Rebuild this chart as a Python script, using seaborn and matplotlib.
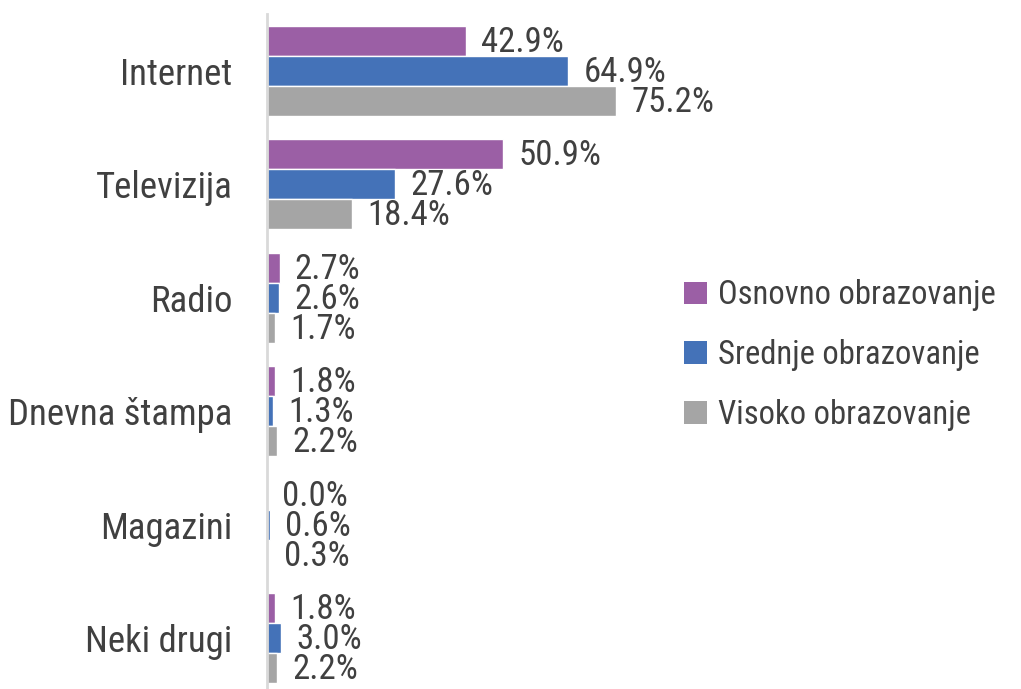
import matplotlib
matplotlib.use("Agg")
import matplotlib.pyplot as plt
import seaborn as sns
import pandas as pd
from matplotlib.patches import Patch

categories = ["Internet", "Televizija", "Radio", "Dnevna štampa", "Magazini", "Neki drugi"]
series_names = ["Osnovno obrazovanje", "Srednje obrazovanje", "Visoko obrazovanje"]
osnovno = [42.9, 50.9, 2.7, 1.8, 0.0, 1.8]
srednje = [64.9, 27.6, 2.6, 1.3, 0.6, 3.0]
visoko = [75.2, 18.4, 1.7, 2.2, 0.3, 2.2]
colors = ["#9B5FA5", "#4472B8", "#A5A5A5"]

rows = []
for name, vals in zip(series_names, [osnovno, srednje, visoko]):
    for c, v in zip(categories, vals):
        rows.append({"cat": c, "val": v, "grp": name})
df = pd.DataFrame(rows)

sns.set_theme(style="white")
plt.rcParams["font.family"] = ["Roboto Condensed", "DejaVu Sans"]
txt = "#404040"

fig = plt.figure(figsize=(10.21, 6.89), dpi=100)
W, H = 1021, 689
left, right, top, bottom = 267, 267 + 464, 14, 695
ax = fig.add_axes([left / W, 1 - bottom / H, (right - left) / W, (bottom - top) / H])

sns.barplot(data=df, y="cat", x="val", hue="grp", orient="h", palette=colors,
            width=0.79, ax=ax, legend=False, saturation=1)
ax.set_xlim(0, 100)
ax.set_ylim(len(categories) - 0.5, -0.5)

for cont in ax.containers:
    for bar in cont:
        v = bar.get_width()
        y = bar.get_y() + bar.get_height() / 2
        ax.annotate(f"{v:.1f}%", xy=(v, y), xytext=(11, -1), textcoords="offset points",
                    ha="left", va="center", fontsize=25, color=txt)

ax.set_xlabel("")
ax.set_ylabel("")
ax.set_xticks([])
ax.tick_params(axis="y", length=0, pad=25, labelsize=26.5, labelcolor=txt)
for s in ["top", "right", "bottom"]:
    ax.spines[s].set_visible(False)
ax.spines["left"].set_color("#D9D9D9")
ax.spines["left"].set_linewidth(2)

handles = [Patch(facecolor=c, edgecolor="none") for c in colors]
fig.legend(handles, series_names, loc="center left", bbox_to_anchor=(655 / W, 1 - 355 / H),
           frameon=False, fontsize=23.5, labelcolor=txt, handlelength=0.68, handleheight=0.68,
           handletextpad=0.35, labelspacing=0.85)

fig.savefig("out.png", dpi=100, facecolor="white")
